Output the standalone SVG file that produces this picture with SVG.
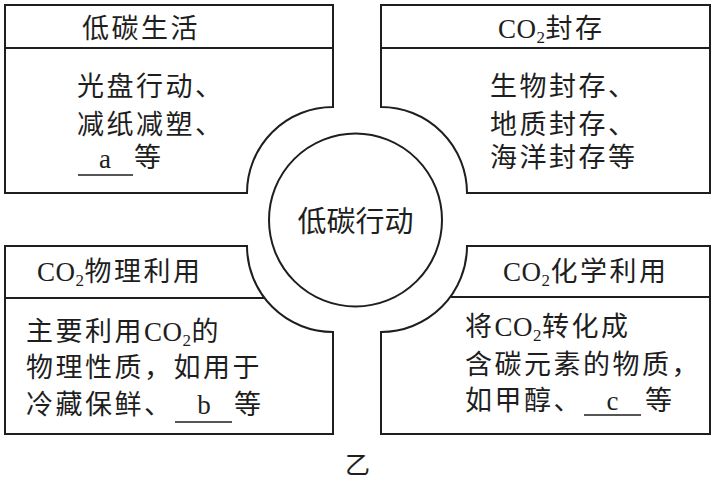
<svg xmlns="http://www.w3.org/2000/svg" width="716" height="479" viewBox="0 0 716 479">
<style>
.box{fill:#fff;stroke:#1e1e1e;stroke-width:2}
.div{stroke:#1e1e1e;stroke-width:2;fill:none}
.blank{stroke:#1e1e1e;stroke-width:1.3;fill:none}
.t{font-family:"Liberation Serif","Noto Sans CJK SC",serif;font-size:27px;fill:#1e1e1e;letter-spacing:2.5px}
.lat{letter-spacing:0.5px}
.sub{font-size:17px}
.mid{text-anchor:middle;letter-spacing:0}
</style>
<rect width="716" height="479" fill="#fff"/>
<g id="connectors"></g>
<g id="node-center">
<circle cx="355.5" cy="220" r="86.5" fill="#fff" stroke="#1e1e1e" stroke-width="2"/>
<text class="t mid" x="355.5" y="232" style="font-size:29px">低碳行动</text>
</g>
<g id="node-low-carbon-life">
<path class="box" d="M5,5 H333 V107 A86,86 0 0 0 247,193 H5 Z"/>
<line class="div" x1="5" y1="48" x2="333" y2="48"/>
<text class="t" x="82" y="38">低碳生活</text>
<text class="t" x="77" y="96">光盘行动、</text>
<text class="t" x="77" y="134">减纸减塑、</text>
<line class="blank" x1="78" y1="175" x2="133" y2="175"/>
<text class="t mid" x="105" y="168">a</text>
<text class="t" x="134" y="167">等</text>
</g>
<g id="node-co2-storage">
<path class="box" d="M381,5 H710 V193 H467 A86,86 0 0 0 381,107 Z"/>
<line class="div" x1="381" y1="48" x2="710" y2="48"/>
<text class="t" x="498" y="37.5"><tspan class="lat">CO</tspan><tspan class="lat sub" dy="5">2</tspan><tspan dy="-5">封存</tspan></text>
<text class="t" x="490" y="96">生物封存、</text>
<text class="t" x="490" y="134">地质封存、</text>
<text class="t" x="490" y="167">海洋封存等</text>
</g>
<g id="node-co2-physical">
<path class="box" d="M5,246 H247 A86,86 0 0 0 333,332 V434 H5 Z"/>
<line class="div" x1="5" y1="298" x2="264.5" y2="298"/>
<text class="t" x="37" y="281"><tspan class="lat">CO</tspan><tspan class="lat sub" dy="5">2</tspan><tspan dy="-5">物理利用</tspan></text>
<text class="t" x="26" y="341">主要利用<tspan class="lat">CO</tspan><tspan class="lat sub" dy="5">2</tspan><tspan dy="-5">的</tspan></text>
<text class="t" x="26" y="377">物理性质，如用于</text>
<text class="t" x="26" y="414">冷藏保鲜、</text>
<line class="blank" x1="175" y1="422" x2="232" y2="422"/>
<text class="t mid" x="204" y="414">b</text>
<text class="t" x="234" y="414">等</text>
</g>
<g id="node-co2-chemical">
<path class="box" d="M467,246 H710 V434 H381 V332 A86,86 0 0 0 467,246 Z"/>
<line class="div" x1="450.5" y1="297" x2="710" y2="297"/>
<text class="t" x="503" y="281"><tspan class="lat">CO</tspan><tspan class="lat sub" dy="5">2</tspan><tspan dy="-5">化学利用</tspan></text>
<text class="t" x="465" y="336">将<tspan class="lat">CO</tspan><tspan class="lat sub" dy="5">2</tspan><tspan dy="-5">转化成</tspan></text>
<text class="t" x="465" y="374">含碳元素的物质，</text>
<text class="t" x="465" y="410">如甲醇、</text>
<line class="blank" x1="584" y1="415" x2="641" y2="415"/>
<text class="t mid" x="612.5" y="410">c</text>
<text class="t" x="645" y="410">等</text>
</g>
<text class="t mid" x="357.5" y="474" style="font-size:25px">乙</text>
</svg>
